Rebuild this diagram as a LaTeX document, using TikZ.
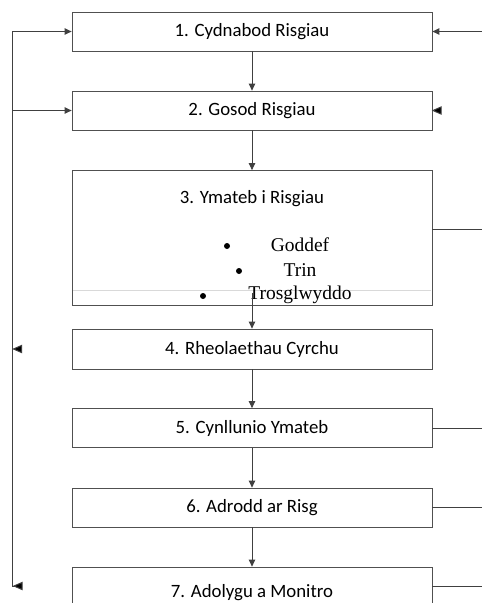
\documentclass[tikz,border=0pt]{standalone}
\usepackage{fontspec}
\newfontfamily\calfont{Carlito}
\newfontfamily\tnrfont{Liberation Serif}
\usetikzlibrary{arrows.meta}
\definecolor{ln}{HTML}{404040}
\definecolor{bd}{HTML}{505050}
\tikzset{
  box/.style={draw=bd, line width=0.8pt, fill=white, minimum width=360pt, inner sep=0pt, font=\calfont\fontsize{18.8}{20}\selectfont, text=black},
  arr/.style={draw=ln, line width=1pt, -{Triangle[length=7pt,width=6.5pt]}},
  ln/.style={draw=ln, line width=1pt},
  bul/.style={font=\tnrfont\fontsize{19.5}{21}\selectfont, inner sep=0pt},
}
\begin{document}
\begin{tikzpicture}[x=1pt,y=-1pt]
\clip (0,0) rectangle (482,603);
\fill[white] (0,0) rectangle (482,603);
% boxes
\node[box, minimum height=39pt] (b1) at (252,31.5) {1. Cydnabod Risgiau};
\node[box, minimum height=39pt] (b2) at (252,110.5) {2. Gosod Risgiau};
\node[box, minimum height=135pt] (b3) at (252,238) {};
\node[box, minimum height=40pt] (b4) at (252,349) {4. Rheolaethau Cyrchu};
\node[box, minimum height=39pt] (b5) at (252,428) {5. Cynllunio Ymateb};
\node[box, minimum height=39pt] (b6) at (252,507.5) {6. Adrodd ar Risg};
\node[box, minimum height=52pt] (b7) at (252,593) {7. Adolygu a Monitro};
% box 3 contents
\draw[gray!30, line width=0.6pt] (73,290) -- (431,290);
\node[font=\calfont\fontsize{18.8}{20}\selectfont] (t3) at (252,199) {3. Ymateb i Risgiau};
\fill (227,246) circle (3pt);
\node[bul] (g1) at (300,245) {Goddef};
\fill (239,271) circle (3pt);
\node[bul] (g2) at (300,270) {Trin};
\fill (203,296) circle (3pt);
\node[bul] (g3) at (300,295) {Trosglwyddo};
% down arrows
\draw[arr] (b1.south) -- (b2.north);
\draw[arr] (b2.south) -- (b3.north);
\draw[arr] ([yshift=13pt]b3.south) -- (b4.north);
\draw[arr] (b4.south) -- (b5.north);
\draw[arr] (b5.south) -- (b6.north);
\draw[arr] (b6.south) -- (b7.north);
% left loop
\coordinate (lt) at (12,31.5);
\coordinate (lm) at (12,110.5);
\coordinate (lb) at (12,586);
\coordinate (lbe) at (22,586);
\draw[ln] (lbe) -- (lb) -- (lt);
\draw[arr] (lt) -- (b1.west);
\draw[arr] (lm) -- (b2.west);
\fill[ln] (13.5,349) -- (21.5,345.5) -- (21.5,352.5) -- cycle;
\fill[ln] (14,586) -- (22,582.5) -- (22,589.5) -- cycle;
% right side
\coordinate (r1) at (482,31.5);
\draw[arr] (r1) -- (b1.east);
\fill[ln] (433,110.5) -- (441,107) -- (441,114) -- cycle;
\coordinate (r3) at (482,229);
\coordinate (r5) at (482,428);
\coordinate (r6) at (482,507.5);
\coordinate (r7) at (482,586);
\draw[ln] (b3.east |- r3) -- (r3);
\draw[ln] (b5.east) -- (r5);
\draw[ln] (b6.east) -- (r6);
\draw[ln] (b7.east |- r7) -- (r7);
\end{tikzpicture}
\end{document}
